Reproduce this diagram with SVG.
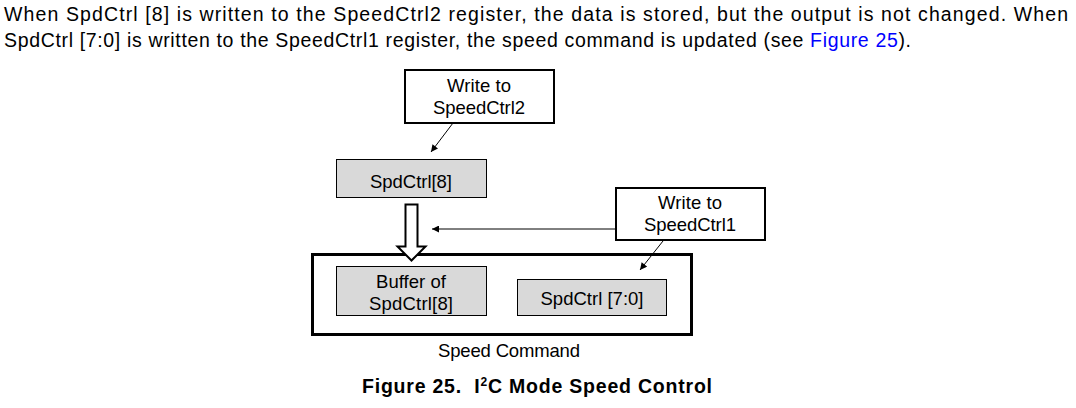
<svg xmlns="http://www.w3.org/2000/svg" width="1076" height="408" viewBox="0 0 1076 408">
<defs>
<marker id="ah" viewBox="0 0 10 10" refX="10" refY="5" markerWidth="9" markerHeight="7" markerUnits="userSpaceOnUse" orient="auto">
<path d="M0,0 L10,5 L0,10 z" fill="#000"/>
</marker>
<style>
text{font-family:"Liberation Sans",Arial,sans-serif;fill:#000}
.t{font-size:18.5px;text-anchor:middle}
.p{font-size:19.5px}
.white{fill:#fff;stroke:#000;stroke-width:2}
.gray{fill:#d9d9d9;stroke:#000;stroke-width:1}
.c{stroke:#000;stroke-width:1;fill:none}
</style>
</defs>
<rect width="1076" height="408" fill="#fff"/>
<text class="p" x="4" y="21" textLength="1064" lengthAdjust="spacing">When SpdCtrl [8] is written to the SpeedCtrl2 register, the data is stored, but the output is not changed. When</text>
<text class="p" x="4" y="47" textLength="907" lengthAdjust="spacing">SpdCtrl [7:0] is written to the SpeedCtrl1 register, the speed command is updated (see <tspan fill="#0000ff">Figure 25</tspan>).</text>

<g id="speed-command">
<rect x="312.5" y="254.5" width="379" height="80" fill="none" stroke="#000" stroke-width="3"/>
<text class="t" x="509" y="357" textLength="142" lengthAdjust="spacing">Speed Command</text>
</g>
<g id="write2">
<rect class="white" x="405" y="70" width="149" height="53"/>
<text class="t" x="479" y="92" textLength="64" lengthAdjust="spacing">Write to</text>
<text class="t" x="479" y="114" textLength="92" lengthAdjust="spacing">SpeedCtrl2</text>
</g>
<g id="spdctrl8">
<rect class="gray" x="336.5" y="159.5" width="150" height="38"/>
<text class="t" x="411" y="188" textLength="82" lengthAdjust="spacing">SpdCtrl[8]</text>
</g>
<g id="write1">
<rect class="white" x="616" y="188" width="149" height="52"/>
<text class="t" x="690" y="209" textLength="64" lengthAdjust="spacing">Write to</text>
<text class="t" x="690" y="231" textLength="92" lengthAdjust="spacing">SpeedCtrl1</text>
</g>
<g id="buffer">
<rect class="gray" x="336.5" y="266.5" width="150" height="49"/>
<text class="t" x="411" y="288" textLength="70" lengthAdjust="spacing">Buffer of</text>
<text class="t" x="411" y="310" textLength="84" lengthAdjust="spacing">SpdCtrl[8]</text>
</g>
<g id="spdctrl70">
<rect class="gray" x="517.5" y="279.5" width="149" height="36"/>
<text class="t" x="592" y="305" textLength="103" lengthAdjust="spacing">SpdCtrl [7:0]</text>
</g>
<g id="connectors">
<line class="c" x1="453" y1="123" x2="431" y2="152" marker-end="url(#ah)"/>
<line class="c" x1="615" y1="229" x2="432" y2="229" marker-end="url(#ah)"/>
<line class="c" x1="663" y1="241" x2="640" y2="270" marker-end="url(#ah)"/>
<polygon points="405.5,204.5 417.5,204.5 417.5,246.5 425.5,246.5 411.5,260.5 397.5,246.5 405.5,246.5" fill="#fff" stroke="#000" stroke-width="2" stroke-linejoin="miter"/>
</g>
<text x="537" y="393" font-size="19.5" font-weight="bold" text-anchor="middle" textLength="350" lengthAdjust="spacing" xml:space="preserve">Figure 25.  I<tspan font-size="12" dy="-7">2</tspan><tspan dy="7">C Mode Speed Control</tspan></text>
</svg>
